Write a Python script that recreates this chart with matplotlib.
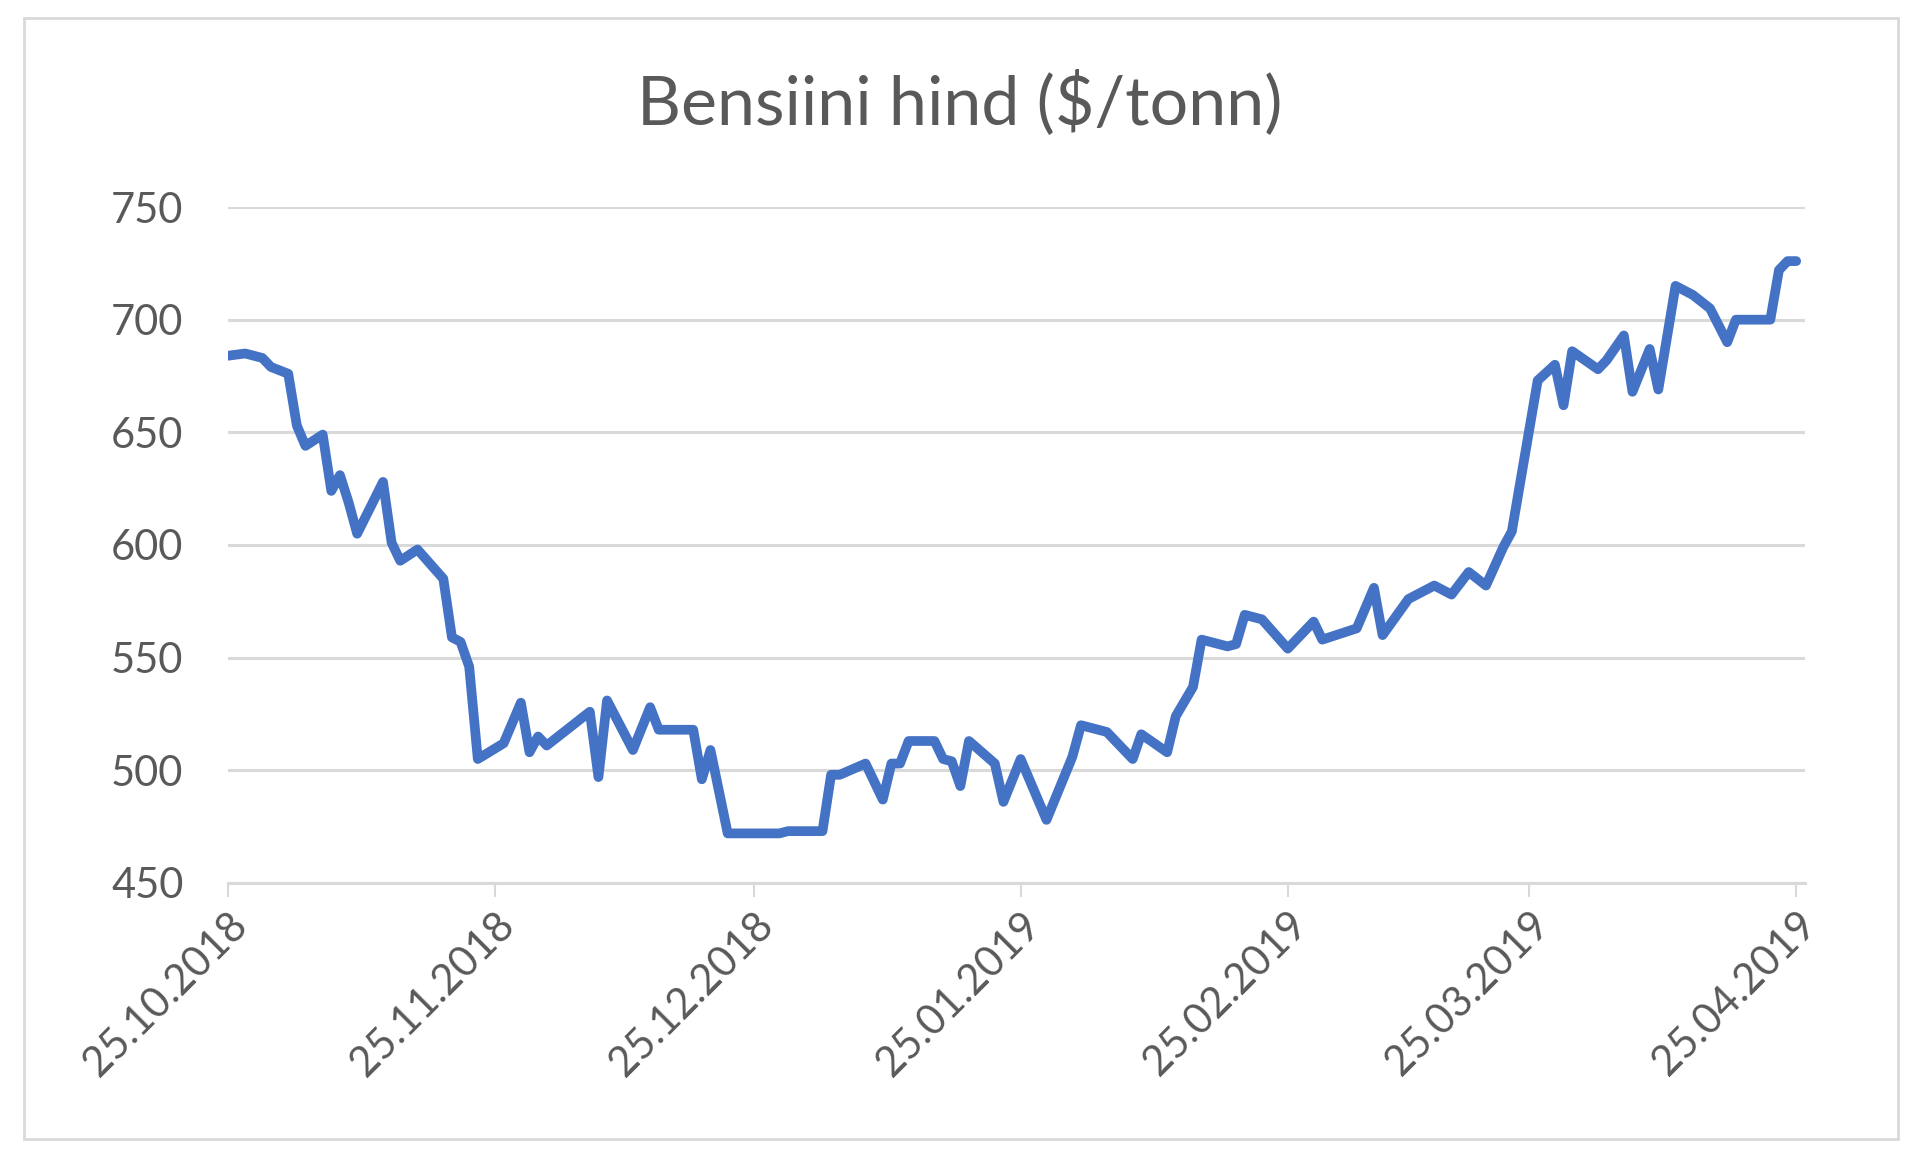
import matplotlib
matplotlib.use("Agg")
import matplotlib.pyplot as plt
import matplotlib.dates as mdates
from matplotlib.ticker import FixedLocator
import pandas as pd
from matplotlib.patches import Rectangle

# Gasoline price, $/tonn
dates = [
    "2018-10-25", "2018-10-27", "2018-10-29", "2018-10-30", "2018-11-01", "2018-11-02",
    "2018-11-03", "2018-11-05", "2018-11-06", "2018-11-07", "2018-11-08", "2018-11-09",
    "2018-11-12", "2018-11-13", "2018-11-14", "2018-11-16", "2018-11-19", "2018-11-20",
    "2018-11-21", "2018-11-22", "2018-11-23", "2018-11-26", "2018-11-28", "2018-11-29",
    "2018-11-30", "2018-12-01", "2018-12-04", "2018-12-05", "2018-12-06", "2018-12-07",
    "2018-12-08", "2018-12-11", "2018-12-13", "2018-12-14", "2018-12-18", "2018-12-19",
    "2018-12-20", "2018-12-22", "2018-12-28", "2018-12-29", "2019-01-02", "2019-01-03",
    "2019-01-04", "2019-01-07", "2019-01-09", "2019-01-10", "2019-01-11", "2019-01-12",
    "2019-01-15", "2019-01-16", "2019-01-17", "2019-01-18", "2019-01-19", "2019-01-22",
    "2019-01-23", "2019-01-25", "2019-01-28", "2019-01-31", "2019-02-01", "2019-02-04",
    "2019-02-07", "2019-02-08", "2019-02-11", "2019-02-12", "2019-02-14", "2019-02-15",
    "2019-02-18", "2019-02-19", "2019-02-20", "2019-02-22", "2019-02-25", "2019-02-28",
    "2019-03-01", "2019-03-05", "2019-03-07", "2019-03-08", "2019-03-11", "2019-03-14",
    "2019-03-16", "2019-03-18", "2019-03-20", "2019-03-22", "2019-03-23", "2019-03-26",
    "2019-03-28", "2019-03-29", "2019-03-30", "2019-04-02", "2019-04-03", "2019-04-05",
    "2019-04-06", "2019-04-08", "2019-04-09", "2019-04-11", "2019-04-13", "2019-04-15",
    "2019-04-17", "2019-04-18", "2019-04-22", "2019-04-23", "2019-04-24", "2019-04-25",
]
prices = [
    684, 685, 683, 679, 676, 653,
    644, 649, 624, 631, 619, 605,
    628, 601, 593, 598, 585, 559,
    557, 546, 505, 512, 530, 508,
    515, 511, 520, 523, 526, 497,
    531, 509, 528, 518, 518, 496,
    509, 472, 472, 473, 473, 498,
    498, 503, 487, 503, 503, 513,
    513, 505, 504, 493, 513, 503,
    486, 505, 478, 506, 520, 517,
    505, 516, 508, 524, 537, 558,
    555, 556, 569, 567, 554, 566,
    558, 563, 581, 560, 576, 582,
    578, 588, 582, 599, 606, 673,
    680, 662, 686, 678, 682, 693,
    668, 687, 669, 715, 711, 705,
    690, 700, 700, 722, 726, 726,
]
tick_dates = ["2018-10-25", "2018-11-25", "2018-12-25", "2019-01-25",
              "2019-02-25", "2019-03-25", "2019-04-25"]
y_ticks = [450, 500, 550, 600, 650, 700, 750]

plt.rcParams['font.family'] = ['Lato', 'DejaVu Sans']
grey_txt = "#595959"
grid_col = "#D9D9D9"

x = pd.to_datetime(dates)
fig = plt.figure(figsize=(19.2, 11.67), dpi=100)
ax = fig.add_axes([0.1187, 0.2434, 0.8213, 0.5792])

# outer chart border
fig.patches.append(Rectangle((0.0125, 0.024), 0.976, 0.961, transform=fig.transFigure,
                             fill=False, edgecolor=grid_col, linewidth=2))

ax.plot(x, prices, color="#4472C4", linewidth=7, solid_joinstyle="round",
        solid_capstyle="round", zorder=3)

ax.set_ylim(450, 750)
ax.set_yticks(y_ticks)
ax.set_xlim(pd.Timestamp("2018-10-25"), pd.Timestamp("2019-04-26"))
ax.xaxis.set_major_locator(FixedLocator(mdates.date2num(pd.to_datetime(tick_dates))))
ax.xaxis.set_major_formatter(mdates.DateFormatter("%d.%m.%Y"))

ax.grid(axis="y", color=grid_col, linewidth=2.2)
ax.set_axisbelow(True)
for s in ["top", "right", "left"]:
    ax.spines[s].set_visible(False)
ax.spines["bottom"].set_color(grid_col)
ax.spines["bottom"].set_linewidth(2.2)

ax.tick_params(axis="y", length=0, pad=32, labelsize=30, labelcolor=grey_txt)
ax.tick_params(axis="x", length=10, width=1.5, color=grid_col, pad=6,
               labelsize=30, labelcolor=grey_txt)
for lbl in ax.get_xticklabels():
    lbl.set_rotation(45)
    lbl.set_ha("right")
    lbl.set_rotation_mode("anchor")

fig.text(0.5, 0.912, "Bensiini hind ($/tonn)", ha="center", va="center",
         fontsize=49, color=grey_txt)

fig.savefig("out.png", dpi=100, facecolor="white")
